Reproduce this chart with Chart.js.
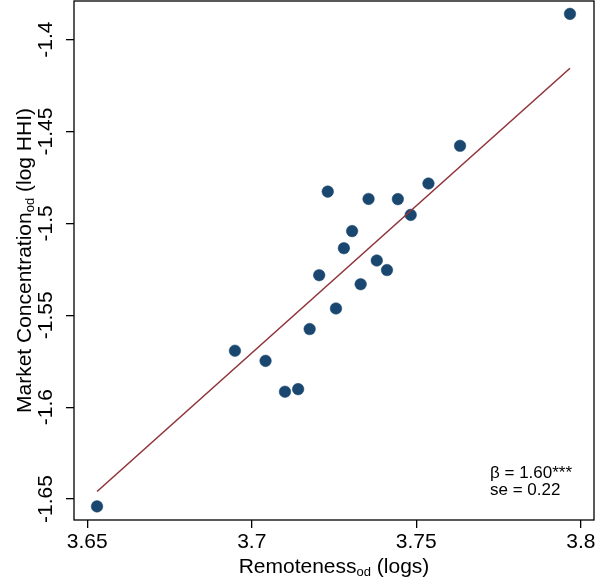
<!DOCTYPE html>
<html>
<head>
<meta charset="utf-8">
<script src="https://cdn.jsdelivr.net/npm/chart.js@4/dist/chart.umd.min.js"></script>
<style>
  html, body { margin: 0; padding: 0; background: #fff; }
</style>
</head>
<body>
<canvas id="grafico" width="597" height="585"></canvas>
<script>
// valores
const remoteness = [3.6530, 3.6949, 3.7042, 3.7101, 3.7141, 3.7176, 3.7205, 3.7231, 3.7256, 3.7280,
                    3.7305, 3.7331, 3.7355, 3.7380, 3.7411, 3.7444, 3.7483, 3.7537, 3.7633, 3.7967];
const concentration = [-1.6540, -1.5693, -1.5748, -1.5916, -1.5902, -1.5575, -1.5282, -1.4827, -1.5463, -1.5135,
                       -1.5042, -1.5331, -1.4867, -1.5202, -1.5254, -1.4868, -1.4954, -1.4783, -1.4578, -1.3860];
const fitX = [3.653, 3.7967];
const fitY = [-1.6459, -1.4156];
const xTicks = [3.65, 3.7, 3.75, 3.8];
const yTicks = [-1.65, -1.6, -1.55, -1.5, -1.45, -1.4];
const xTitle = ["Remoteness", "od", " (logs)"];
const yTitle = ["Market Concentration", "od", " (log HHI)"];
const nota = ["β = 1.60***", "se = 0.22"];

const fonte = "'Liberation Sans', Arial, Helvetica, sans-serif";
Chart.defaults.font.family = fonte;
Chart.defaults.font.size = 21;
Chart.defaults.color = "#000";

// escreve texto com subscrito a partir de (0,0)
function textoSub(ctx, partes) {
  const grande = "21px " + fonte;
  const pequeno = "13px " + fonte;
  ctx.font = grande;
  const w0 = ctx.measureText(partes[0]).width;
  const w2 = ctx.measureText(partes[2]).width;
  ctx.font = pequeno;
  const w1 = ctx.measureText(partes[1]).width;
  let x = -(w0 + w1 + w2) / 2;
  ctx.textAlign = "left";
  ctx.textBaseline = "alphabetic";
  ctx.font = grande;
  ctx.fillText(partes[0], x, 0);
  x += w0;
  ctx.font = pequeno;
  ctx.fillText(partes[1], x, 3);
  x += w1;
  ctx.font = grande;
  ctx.fillText(partes[2], x, 0);
}

const moldura = {
  id: "moldura",
  afterDraw(chart) {
    const { ctx, chartArea: a } = chart;
    ctx.save();
    ctx.strokeStyle = "#000";
    ctx.lineWidth = 1.3;
    ctx.strokeRect(a.left, a.top, a.right - a.left, a.bottom - a.top);
    ctx.fillStyle = "#000";

    // título do eixo x
    ctx.save();
    ctx.translate((a.left + a.right) / 2, 573);
    textoSub(ctx, xTitle);
    ctx.restore();

    // título do eixo y
    ctx.save();
    ctx.translate(31, (a.top + a.bottom) / 2);
    ctx.rotate(-Math.PI / 2);
    textoSub(ctx, yTitle);
    ctx.restore();

    // coeficiente
    ctx.font = "17px " + fonte;
    ctx.textAlign = "left";
    ctx.textBaseline = "alphabetic";
    ctx.fillText(nota[0], 490, 478);
    ctx.fillText(nota[1], 490, 495);
    ctx.restore();
  }
};

const pontos = remoteness.map((x, i) => ({ x: x, y: concentration[i] }));
const reta = fitX.map((x, i) => ({ x: x, y: fitY[i] }));

function semMargem(s) {
  s.paddingTop = 0;
  s.paddingBottom = 0;
  s.paddingLeft = 0;
  s.paddingRight = 0;
}

new Chart(document.getElementById("grafico").getContext("2d"), {
  type: "scatter",
  data: {
    datasets: [
      {
        label: "Ajuste",
        data: reta,
        showLine: true,
        borderColor: "#90353b",
        borderWidth: 1.6,
        pointRadius: 0,
        pointHoverRadius: 0
      },
      {
        label: "Dados",
        data: pontos,
        backgroundColor: "#1a476f",
        borderColor: "#1a476f",
        borderWidth: 0.5,
        pointRadius: 5.8
      }
    ]
  },
  options: {
    responsive: false,
    animation: false,
    devicePixelRatio: 1,
    layout: { autoPadding: false, padding: { top: 1, right: 3, left: 0, bottom: 0 } },
    plugins: {
      legend: { display: false },
      tooltip: { enabled: false }
    },
    scales: {
      x: {
        type: "linear",
        min: 3.646,
        max: 3.804,
        afterBuildTicks: s => { s.ticks = xTicks.map(v => ({ value: v })); },
        afterFit: s => { s.height = 65; semMargem(s); },
        ticks: {
          autoSkip: false,
          maxRotation: 0,
          padding: 2,
          callback: v => String(v)
        },
        grid: { drawOnChartArea: false, tickLength: 8, color: "#000", lineWidth: 1.3 },
        border: { display: false }
      },
      y: {
        type: "linear",
        min: -1.6614,
        max: -1.379,
        afterBuildTicks: s => { s.ticks = yTicks.map(v => ({ value: v })); },
        afterFit: s => { s.width = 74; semMargem(s); },
        ticks: {
          autoSkip: false,
          minRotation: 90,
          maxRotation: 90,
          crossAlign: "center",
          padding: -4,
          callback: v => String(v)
        },
        grid: { drawOnChartArea: false, tickLength: 8, color: "#000", lineWidth: 1.3 },
        border: { display: false }
      }
    }
  },
  plugins: [moldura]
});
</script>
</body>
</html>
